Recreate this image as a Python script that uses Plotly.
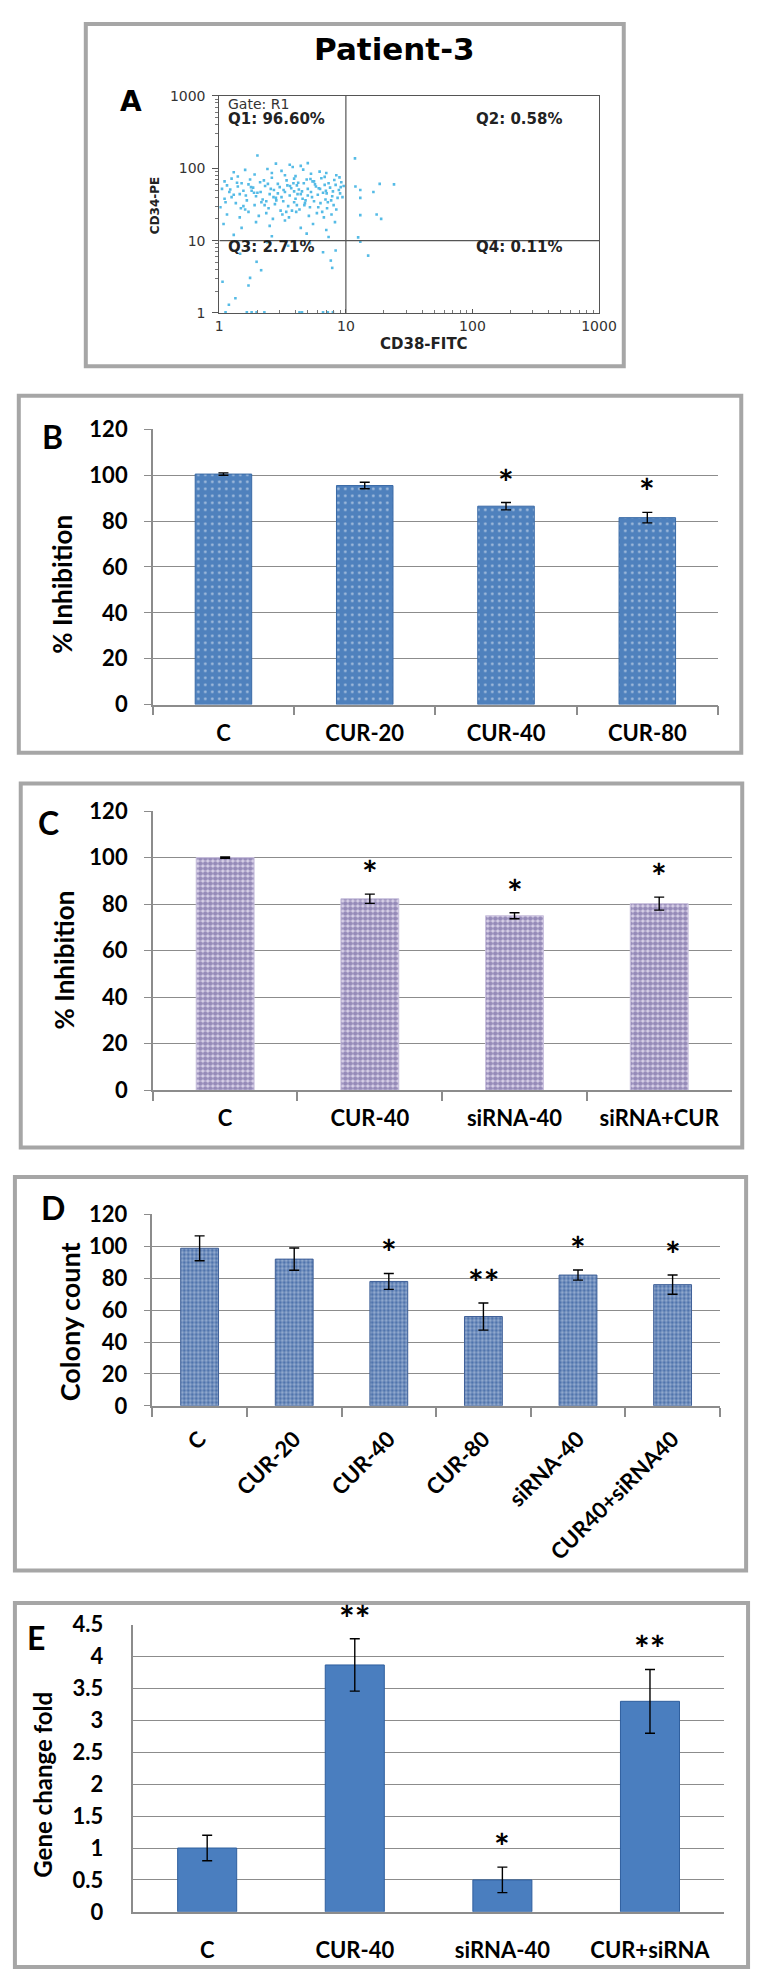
"""
Patient-3 figure: flow cytometry gate (A) and four bar panels (B-E)
"""
import plotly.graph_objects as go

W, H = 760, 1975

# ---- panel A: CD38-FITC vs CD34-PE events
gate_x = 10
gate_y = 10
axis_span = [1, 1000]
a_ticks = [1, 10, 100, 1000]
a_tick_text = ["1", "10", "100", "1000"]
quadrant_text = ["Q1: 96.60%", "Q2: 0.58%", "Q3: 2.71%", "Q4: 0.11%"]
events_cd38 = [
    1.3, 1.6, 1.9, 2.4, 3.1, 3.8, 4.6, 5.3, 6.2, 7.0, 8.4, 2.0, 2.8, 3.6, 4.4, 5.0,
    1.1, 1.25, 1.5, 1.75, 2.1, 2.6, 2.9, 3.4, 3.9, 4.2, 4.9, 5.6, 6.4, 7.3, 8.1, 9.2,
    1.05, 1.2, 1.4, 1.55, 1.85, 2.0, 2.3, 2.7, 3.0, 3.3, 3.7, 4.1, 4.5, 5.0, 5.8, 6.6, 7.5, 8.8, 9.6,
    1.1, 1.3, 1.65, 1.95, 2.2, 2.5, 2.8, 3.2, 3.6, 4.0, 4.4, 4.8, 5.4, 6.0, 6.9, 7.8, 8.6,
    1.02, 1.35, 1.6, 1.9, 2.15, 2.45, 2.75, 3.05, 3.5, 3.9, 4.3, 4.7, 5.2, 6.3, 7.1, 8.0,
    1.15, 1.45, 1.7, 2.05, 2.35, 2.65, 3.15, 3.55, 4.05, 5.1, 5.9, 6.7, 7.7,
    1.08, 1.5, 1.95, 2.5, 3.3, 4.4, 5.5, 7.0, 8.2,
    1.3, 2.6, 4.9, 7.3,
    1.15, 1.45, 1.7, 2.25, 2.55, 3.45, 3.1, 4.25, 4.65, 5.3, 6.1, 6.8, 7.9, 9.0, 1.55, 2.35,
    3.75, 5.6, 6.5, 8.4, 1.25, 2.9, 4.1, 5.0, 7.2, 9.4, 1.8, 3.9, 5.7, 2.6, 4.0, 6.8, 1.4, 8.9, 3.3,
    1.22, 1.38, 1.62, 1.78, 2.12, 2.42, 2.82, 3.22, 3.62, 4.15, 4.75, 5.45, 6.25, 7.05, 8.3,
    1.12, 1.48, 1.88, 2.28, 2.68, 3.38, 3.85, 4.55, 5.25, 6.05, 6.95, 7.65, 9.1,
    11.8, 11.9, 13.0, 16.5, 18.5, 13.0, 17.5, 19.0, 13.0, 24.0, 12.5, 13.0, 15.0,
    2.14, 1.75, 1.34, 1.19, 7.6, 6.6, 7.8, 1.97, 1.7, 1.06, 1.46, 8.3, 3.5, 5.2, 2.4,
    1.12, 1.65, 1.8, 1.97, 2.27, 4.3, 4.5, 6.6, 7.2, 7.9,
]
events_cd34 = [
    88, 95, 82, 98, 92, 104, 96, 84, 90, 86, 80, 150, 116, 112, 108, 118,
    66, 72, 62, 70, 64, 74, 61, 68, 72, 63, 70, 66, 73, 62, 69, 64,
    52, 47, 56, 49, 54, 46, 57, 50, 55, 47, 53, 58, 48, 52, 56, 46, 54, 50, 57,
    38, 43, 36, 41, 37, 44, 39, 35, 42, 38, 44, 36, 40, 43, 37, 41, 39,
    29, 33, 27, 31, 34, 28, 32, 26, 30, 34, 27, 31, 29, 33, 28, 31,
    23, 21, 25, 22, 24, 20, 23, 21, 25, 22, 24, 21, 23,
    17, 15, 18, 16, 19, 15, 17, 14, 18,
    12, 11.5, 12.5, 11.2,
    58, 44, 60, 68, 52, 58, 40, 51, 62, 47, 53, 59, 48, 45, 30, 35,
    26, 35, 25, 27, 40, 45, 31, 42, 34, 40, 49, 48, 60, 86, 78, 76, 77, 75, 80,
    51, 63, 42, 55, 47, 61, 36, 50, 57, 44, 33, 66, 52, 45, 59,
    34, 28, 46, 31, 40, 25, 62, 38, 71, 29, 49, 36, 55,
    137, 56, 50, 47, 61, 39, 23, 20, 22.5, 60, 11.1, 9.7, 6.2,
    3.9, 3.06, 1.6, 1.3, 5.3, 6.9, 4.2, 5.1, 2.4, 2.7, 6.6, 7.3, 8.5, 9.2, 9.5,
    1.02, 1.02, 1.02, 1.02, 1.02, 1.02, 1.02, 1.02, 1.02, 1.02,
]

# ---- panel B: % inhibition, curcumin doses
b_groups = ["C", "CUR-20", "CUR-40", "CUR-80"]
b_inhibition = [100.5, 95.5, 86.5, 81.5]
b_err = [0.5, 1.4, 1.6, 2.3]
b_stars = ["", "", "*", "*"]

# ---- panel C: % inhibition, curcumin vs siRNA
c_groups = ["C", "CUR-40", "siRNA-40", "siRNA+CUR"]
c_inhibition = [100, 82.3, 75, 80.2]
c_err = [0.3, 2.0, 1.3, 2.8]
c_stars = ["", "*", "*", "*"]

# ---- panel D: colony count
d_groups = ["C", "CUR-20", "CUR-40", "CUR-80", "siRNA-40", "CUR40+siRNA40"]
d_colonies = [98.8, 92, 78, 56, 82, 76]
d_err = [7.8, 7, 5, 8.5, 3.2, 6]
d_stars = ["", "", "*", "**", "*", "*"]

# ---- panel E: gene change fold
e_groups = ["C", "CUR-40", "siRNA-40", "CUR+siRNA"]
e_fold = [1.0, 3.87, 0.5, 3.3]
e_err = [0.2, 0.41, 0.2, 0.5]
e_stars = ["", "**", "*", "**"]

LATO = "Lato, 'Open Sans', sans-serif"
DEJAVU = "'DejaVu Sans', sans-serif"
GRID = "#8C8C8C"
BOX = "#A6A6A6"


def bold(size, color="black", family=LATO):
    return dict(family=family, size=size, color=color, weight="bold")


def xdom(x0, x1):
    return [x0 / W, x1 / W]


def ydom(y0, y1):
    return [1 - y1 / H, 1 - y0 / H]


def label(x, y, text, font, angle=0):
    """Centered text placed at a pixel position on the page."""
    fig.add_annotation(x=x / W, y=1 - y / H, xref="paper", yref="paper", text=text,
                       xanchor="center", yanchor="middle", textangle=angle,
                       showarrow=False, font=font)


fig = go.Figure()

# panel frames (pixel boxes)
boxes = [(76, 2, 630, 349), (7, 379, 751, 741), (9, 772, 752, 1141),
         (3, 1171, 756, 1570), (3, 1603, 758, 1972)]
for x0, y0, x1, y1 in boxes:
    fig.add_shape(type="rect", xref="paper", yref="paper",
                  x0=x0 / W, x1=x1 / W, y0=1 - y1 / H, y1=1 - y0 / H,
                  line=dict(color=BOX, width=4), layer="below")

# ---------------- panel A
fig.add_trace(go.Scatter(
    x=events_cd38, y=events_cd34, mode="markers", xaxis="x", yaxis="y",
    marker=dict(size=2.6, symbol="square", color="#55BBE6", line=dict(width=0)),
    hoverinfo="skip"))
fig.add_trace(go.Scatter(x=[gate_x, gate_x], y=axis_span, mode="lines", xaxis="x", yaxis="y",
                         line=dict(color="#555555", width=1.2), hoverinfo="skip"))
fig.add_trace(go.Scatter(x=axis_span, y=[gate_y, gate_y], mode="lines", xaxis="x", yaxis="y",
                         line=dict(color="#555555", width=1.2), hoverinfo="skip"))

flow_font = dict(family=DEJAVU, size=14, color="#333333")
flow_common = dict(type="log", range=[0, 3], tickvals=a_ticks, ticktext=a_tick_text,
                   showline=True, mirror=True, linecolor="#555555", linewidth=1,
                   showgrid=False, zeroline=False, tickfont=flow_font, fixedrange=True)
fig.update_layout(
    xaxis=dict(domain=xdom(213.5, 604.5), anchor="y", ticks="inside", ticklen=4,
               tickcolor="#555555", ticklabelstandoff=0,
               minor=dict(ticks="inside", ticklen=3, tickcolor="#777777", dtick="D1"),
               **flow_common),
    yaxis=dict(domain=ydom(75, 295), anchor="x", ticks="outside", ticklen=6,
               tickcolor="#555555", ticklabelstandoff=4,
               minor=dict(ticks="outside", ticklen=3, tickcolor="#777777", dtick="D1"),
               **flow_common),
)

label(394, 27, "Patient-3", dict(family=DEJAVU, size=31, color="black", weight="bold"))
label(123, 81, "A", dict(family=DEJAVU, size=28, color="black", weight="bold"))
label(424, 326, "CD38-FITC", dict(family=DEJAVU, size=15, color="#222222", weight="bold"))
label(148, 186, "CD34-PE", dict(family=DEJAVU, size=12, color="#222222", weight="bold"), -90)

fig.add_annotation(x=0.018, y=0.965, xref="x domain", yref="y domain", text="Gate: R1",
                   xanchor="left", yanchor="middle", showarrow=False,
                   font=dict(family=DEJAVU, size=14, color="#333333"))
q_pos = [(0.018, 0.895), (0.67, 0.895), (0.018, 0.305), (0.67, 0.305)]
for (qx, qy), qt in zip(q_pos, quadrant_text):
    fig.add_annotation(x=qx, y=qy, xref="x domain", yref="y domain", text=qt,
                       xanchor="left", yanchor="middle", showarrow=False,
                       font=dict(family=DEJAVU, size=15, color="#222222", weight="bold"))


# ---------------- bar panels
def bar_panel(idx, groups, vals, errs, stars, plot, ymax, dtick, marker, letter, letter_xy,
              ytitle, ytitle_xy, ytitle_size, xtick_angle=0, x_ticks=True, y_ticks=True,
              xstand=8, ystand=12):
    xa, ya = f"x{idx}", f"y{idx}"
    fig.add_trace(go.Bar(
        x=groups, y=vals, xaxis=xa, yaxis=ya, width=0.4, marker=marker,
        error_y=dict(type="data", array=errs, color="black", thickness=1.4, width=5),
        hoverinfo="skip"))
    x0, y0, x1, y1 = plot
    fig.update_layout({
        f"xaxis{idx}": dict(
            domain=xdom(x0, x1), anchor=ya, type="category", range=[-0.5, len(groups) - 0.5],
            showline=True, linecolor=GRID, linewidth=1.5, showgrid=False,
            ticks="outside" if x_ticks else "", tickson="boundaries", ticklen=9,
            tickcolor=GRID, tickwidth=1.5, tickangle=xtick_angle, tickfont=bold(22),
            ticklabelstandoff=xstand, fixedrange=True),
        f"yaxis{idx}": dict(
            domain=ydom(y0, y1), anchor=xa, range=[0, ymax], dtick=dtick,
            showgrid=True, gridcolor=GRID, gridwidth=1.2, zeroline=False,
            showline=True, linecolor=GRID, linewidth=1.5,
            ticks="outside" if y_ticks else "", ticklen=7, tickcolor=GRID, tickwidth=1.2,
            tickfont=bold(22), ticklabelstandoff=ystand, fixedrange=True),
    })
    for g, v, e, s in zip(groups, vals, errs, stars):
        if s:
            fig.add_annotation(x=g, y=v + e, xref=xa, yref=ya, text=s, showarrow=False,
                               xanchor="center", yanchor="bottom", yshift=-3, font=bold(37))
    label(*letter_xy, letter, bold(32))
    label(*ytitle_xy, ytitle, bold(ytitle_size), -90)


bar_panel(2, b_groups, b_inhibition, b_err, b_stars, (145, 413, 727, 692), 120, 20,
          dict(color="#4F81BD", line=dict(color="#3A6AA6", width=1),
               pattern=dict(shape=".", fgcolor="white", size=7, solidity=0.12)),
          "B", (42, 420), "% Inhibition", (52, 570), 26)

bar_panel(3, c_groups, c_inhibition, c_err, c_stars, (145, 800, 741, 1083), 120, 20,
          dict(color="#DCD5EA", line=dict(color="#C9C1DD", width=1),
               pattern=dict(shape=".", fgcolor="#4E3F86", size=5, solidity=0.7)),
          "C", (38, 812), "% Inhibition", (54, 951), 26)

bar_panel(4, d_groups, d_colonies, d_err, d_stars, (144.5, 1209, 729, 1403), 120, 20,
          dict(color="#4A6FAA", line=dict(color="#3F6098", width=1),
               pattern=dict(shape=".", fgcolor="#D5E1F0", size=4, solidity=0.55)),
          "D", (42, 1202), "Colony count", (60, 1318), 27, xtick_angle=-45, xstand=10)

bar_panel(5, e_groups, e_fold, e_err, e_stars, (125, 1625, 733, 1916), 4.5, 0.5,
          dict(color="#4A7EBF", line=dict(color="#2F5F9E", width=1)),
          "E", (25, 1638), "Gene change fold", (31, 1787), 24,
          x_ticks=False, y_ticks=False, xstand=18, ystand=24)

fig.update_layout(
    width=W, height=H, margin=dict(l=0, r=0, t=0, b=0),
    paper_bgcolor="white", plot_bgcolor="white", showlegend=False,
    bargap=0.6,
)

fig.write_html("out.html")
